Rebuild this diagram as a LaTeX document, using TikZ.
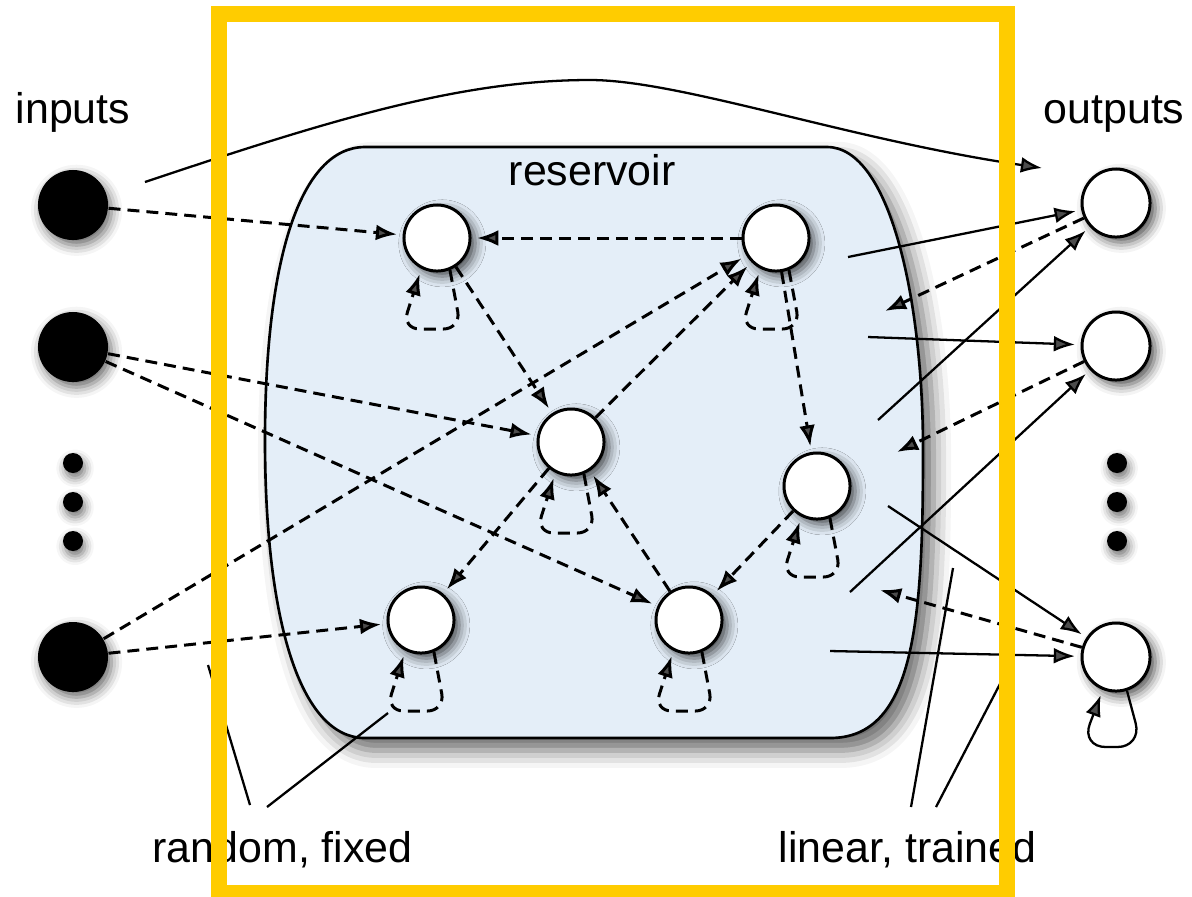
\documentclass[tikz,border=0pt]{standalone}
\usepackage{fontspec}
\setmainfont{Liberation Sans}
\usepackage{tikz}
\usetikzlibrary{
  arrows.meta,%
  calc,%
  % soft shadows under the nodes
  shadows.blur,%
  positioning
}
\definecolor{resblue}{RGB}{228,238,248}
\definecolor{frameyellow}{RGB}{255,204,0}
\tikzset{>={Latex[length=6pt,width=4.5pt]}}
\tikzset{font=\fontsize{12.2}{14}\selectfont}
\tikzset{
  innode/.style={circle, fill=black, minimum size=0.7cm, inner sep=0pt,
    blur shadow={shadow xshift=1pt, shadow yshift=-1.5pt, shadow blur radius=3pt, shadow opacity=60}},
  resnode/.style={circle, draw, line width=0.85pt, fill=white, minimum size=0.66cm, inner sep=0pt,
    blur shadow={shadow xshift=1.5pt, shadow yshift=-1.5pt, shadow blur radius=3pt, shadow opacity=70}},
  outnode/.style={resnode, minimum size=0.68cm},
  vdot/.style={circle, fill=black, minimum size=0.2cm, inner sep=0pt,
    blur shadow={shadow xshift=0.6pt, shadow yshift=-1.5pt, shadow blur radius=2.5pt, shadow opacity=55}},
  caption/.style={inner sep=0pt, anchor=base west},
  wire/.style={line width=0.85pt, dash pattern=on 3.4pt off 2pt},
  readout/.style={line width=0.65pt},
  tip/.style={->, shorten >=1.6pt},
  selfloop/.style={wire, rounded corners=5pt}
}

\begin{document}
\begin{tikzpicture}[x=0.01cm, y=-0.01cm]
  \useasboundingbox (0,0) rectangle (1192,896);

  % reservoir body
  \draw[fill=resblue, line width=0.75pt,
    blur shadow={shadow xshift=3pt, shadow yshift=-3.5pt, shadow blur radius=5pt, shadow opacity=60}]
    (365,147) -- (827,147) .. controls (890,147) and (923,300) .. (923,450)
    .. controls (923,620) and (915,738) .. (830,738) -- (365,738)
    .. controls (300,738) and (265,620) .. (265,440)
    .. controls (265,260) and (300,147) .. (365,147) -- cycle;

  \node[caption] (inlabel) at (15,123) {inputs};
  \node[caption] (outlabel) at (1043,123) {outputs};
  \node[caption] (reslabel) at (508,185) {reservoir};
  \node[caption] (fixlabel) at (152,862) {random, fixed};
  \node[caption] (trainlabel) at (778,862) {linear, trained};

  % input units
  \node[innode] (I1) at (73,205) {};
  \node[innode] (I2) at (73,347) {};
  \node[innode] (I3) at (73,657) {};
  \foreach \y [count=\i] in {463,502,541} {
    \node[vdot] (ldot\i) at (73,\y) {};
    \node[vdot] (rdot\i) at (1117,\y) {};
  }

  % reservoir units
  \node[resnode] (R1) at (437,238) {};
  \node[resnode] (R2) at (776,238) {};
  \node[resnode] (R3) at (571,442) {};
  \node[resnode] (R4) at (817,486) {};
  \node[resnode] (R5) at (421,620) {};
  \node[resnode] (R6) at (689,620) {};

  % output units
  \node[outnode] (O1) at (1116,203) {};
  \node[outnode] (O2) at (1116,346) {};
  \node[outnode] (O3) at (1116,657) {};

  % free ends
  \coordinate (cS) at (145,182);
  \coordinate (cE) at (1042,168);
  \coordinate (fb1) at (885,311);
  \coordinate (fb2) at (897,452);
  \coordinate (fb3) at (880,590);
  \coordinate (ro1) at (848,257);
  \coordinate (ro2) at (868,337);
  \coordinate (ro3) at (878,420);
  \coordinate (ro4) at (850,592);
  \coordinate (ro5) at (888,506);
  \coordinate (ro6) at (830,651);

  % input weights
  \draw[wire, tip] (I1) -- (R1);
  \draw[wire, tip] (I2) -- (R3);
  \draw[wire, tip] (I2) -- (R6);
  \draw[wire, tip] (I3) -- (R5);
  \draw[wire, tip] (I3) -- (R2);

  % internal weights
  \draw[wire, tip] (R2) -- (R1);
  \draw[wire, tip] (R1) -- (R3);
  \draw[wire, tip] (R3) -- (R2);
  \draw[wire, tip] (R2) -- (R4);
  \draw[wire, tip] (R3) -- (R5);
  \draw[wire, tip] (R6) -- (R3);
  \draw[wire, tip] (R4) -- (R6);
  \foreach \n in {R1,R2,R3,R4,R5,R6}
    \draw[selfloop, tip] (\n.-68) -- ($(\n)+(24,91)$) -- ($(\n)+(-35,91)$) -- (\n.-117);

  % feedback
  \draw[wire, ->] (O1) -- (fb1);
  \draw[wire, ->] (O2) -- (fb2);
  \draw[wire, ->] (O3) -- (fb3);

  % readout
  \draw[readout, tip] (ro1) -- (O1);
  \draw[readout, tip] (ro2) -- (O2);
  \draw[readout, tip] (ro3) -- (O1);
  \draw[readout, tip] (ro4) -- (O2);
  \draw[readout, tip] (ro5) -- (O3);
  \draw[readout, tip] (ro6) -- (O3);
  \draw[readout, rounded corners=7pt, tip] (O3.-72) -- ($(O3)+(26,90)$) -- ($(O3)+(-35,90)$) -- (O3.-112);
  \draw[readout, ->] (cS) .. controls (330,120) and (460,80) .. (590,80)
    .. controls (680,80) and (850,140) .. (cE);

  % pointers to the captions
  \draw[readout] (208,665) -- (250,805);
  \draw[readout] (267,807) -- (388,713);
  \draw[readout] (953,568) -- (911,807);
  \draw[readout] (1002,680) -- (936,807);

  % highlight frame
  \draw[frameyellow, line width=0.16cm] (219,14) rectangle (1007,893);
\end{tikzpicture}
\end{document}
